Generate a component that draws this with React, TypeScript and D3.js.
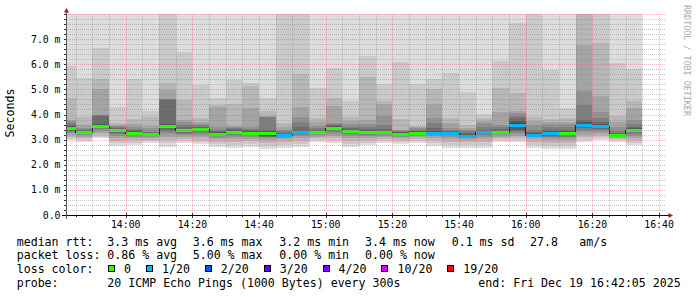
import React from 'react';
import * as d3 from 'd3';

const W = 697;
const H = 297;

const barTimes = [
  '13:40', '13:45', '13:50', '13:55', '14:00', '14:05', '14:10', '14:15', '14:20', '14:25',
  '14:30', '14:35', '14:40', '14:45', '14:50', '14:55', '15:00', '15:05', '15:10', '15:15',
  '15:20', '15:25', '15:30', '15:35', '15:40', '15:45', '15:50', '15:55', '16:00', '16:05',
  '16:10', '16:15', '16:20', '16:25', '16:30',
];

const medians = [
  3.47, 3.29, 3.55, 3.37, 3.28, 3.23, 3.55, 3.37, 3.42, 3.23,
  3.31, 3.28, 3.25, 3.18, 3.29, 3.30, 3.47, 3.34, 3.31, 3.29,
  3.24, 3.28, 3.25, 3.25, 3.16, 3.30, 3.29, 3.59, 3.20, 3.28,
  3.25, 3.59, 3.54, 3.18, 3.38,
];

const losses = [
  0, 0, 0, 0, 0, 0, 0, 0, 0, 0,
  0, 0, 0, 1, 1, 0, 0, 0, 0, 0,
  0, 0, 1, 1, 1, 1, 0, 1, 1, 1,
  0, 1, 1, 0, 0,
];

// 20 sorted ping RTTs per step (ms); null = lost ping, 9 = above the chart top
const pings: (number | null)[][] = [
  [2.98, 3.03, 3.10, 3.18, 3.25, 3.31, 3.36, 3.40, 3.43, 3.46, 3.48, 3.51, 3.55, 3.60, 3.68, 3.74, 3.78, 4.64, 5.93, 9],
  [2.92, 2.98, 3.05, 3.12, 3.18, 3.22, 3.25, 3.27, 3.28, 3.29, 3.30, 3.33, 3.36, 3.40, 3.43, 3.45, 3.60, 3.89, 5.44, 9],
  [3.05, 3.12, 3.20, 3.28, 3.35, 3.41, 3.46, 3.49, 3.51, 3.54, 3.56, 3.58, 3.62, 3.95, 3.98, 4.00, 5.01, 5.40, 6.63, 9],
  [2.75, 2.85, 2.95, 3.05, 3.14, 3.22, 3.28, 3.32, 3.35, 3.37, 3.38, 3.41, 3.44, 3.47, 3.50, 3.55, 3.60, 3.65, 4.31, 9],
  [2.79, 2.88, 2.97, 3.05, 3.12, 3.18, 3.22, 3.25, 3.26, 3.27, 3.29, 3.31, 3.34, 3.38, 3.43, 3.50, 3.61, 3.81, 5.41, 9],
  [2.88, 2.94, 3.00, 3.06, 3.11, 3.15, 3.18, 3.20, 3.21, 3.22, 3.24, 3.26, 3.28, 3.30, 3.32, 3.48, 3.55, 3.89, 4.15, 9],
  [2.72, 2.85, 2.98, 3.10, 3.22, 3.32, 3.40, 3.46, 3.50, 3.54, 3.56, 3.58, 3.62, 4.58, 4.60, 4.62, 4.97, 5.24, 9, 9],
  [2.85, 2.93, 3.02, 3.10, 3.17, 3.23, 3.28, 3.32, 3.35, 3.36, 3.38, 3.40, 3.44, 3.50, 3.58, 3.70, 3.78, 4.58, 6.50, 9],
  [2.81, 2.90, 3.00, 3.10, 3.19, 3.27, 3.33, 3.37, 3.40, 3.41, 3.43, 3.45, 3.48, 3.52, 3.57, 3.63, 3.72, 3.85, 5.17, 9],
  [2.72, 2.82, 2.92, 3.01, 3.08, 3.13, 3.17, 3.19, 3.21, 3.22, 3.24, 3.26, 3.29, 3.33, 3.40, 3.50, 4.30, 4.38, 4.64, 9],
  [2.68, 2.80, 2.92, 3.03, 3.12, 3.19, 3.24, 3.27, 3.29, 3.30, 3.32, 3.34, 3.37, 3.41, 3.45, 3.50, 3.55, 4.42, 5.37, 9],
  [2.72, 2.83, 2.94, 3.04, 3.12, 3.18, 3.22, 3.25, 3.27, 3.28, 3.29, 3.31, 3.34, 3.38, 3.44, 3.50, 4.27, 5.13, 5.27, 9],
  [2.61, 2.75, 2.88, 2.98, 3.05, 3.10, 3.12, 3.14, 3.16, 3.22, 3.27, 3.31, 3.35, 3.40, 3.90, 3.92, 3.94, 4.14, 4.64, 9],
  [2.68, 2.80, 2.92, 3.01, 3.07, 3.11, 3.13, 3.15, 3.16, 3.18, 3.19, 3.21, 3.24, 3.28, 3.33, 3.40, 3.50, 3.65, 9, null],
  [2.72, 2.84, 2.95, 3.05, 3.13, 3.19, 3.23, 3.26, 3.27, 3.29, 3.30, 3.32, 3.36, 3.50, 3.70, 3.91, 4.31, 5.60, 9, null],
  [2.92, 2.98, 3.05, 3.11, 3.17, 3.21, 3.24, 3.26, 3.28, 3.29, 3.31, 3.33, 3.36, 3.40, 3.46, 3.55, 3.70, 3.85, 5.04, 9],
  [2.85, 2.95, 3.05, 3.15, 3.24, 3.32, 3.38, 3.42, 3.45, 3.46, 3.48, 3.50, 3.53, 3.57, 3.61, 3.65, 4.35, 4.67, 5.84, 9],
  [2.72, 2.84, 2.96, 3.06, 3.15, 3.22, 3.27, 3.30, 3.32, 3.33, 3.35, 3.37, 3.40, 3.45, 3.52, 3.62, 3.75, 3.91, 4.55, 9],
  [2.79, 2.88, 2.97, 3.06, 3.13, 3.19, 3.24, 3.27, 3.29, 3.30, 3.32, 3.34, 3.37, 3.42, 3.50, 3.62, 3.78, 5.50, 6.34, 9],
  [2.85, 2.93, 3.01, 3.09, 3.16, 3.21, 3.24, 3.26, 3.27, 3.28, 3.30, 3.32, 3.36, 3.42, 3.60, 3.94, 4.42, 4.54, 5.20, 9],
  [2.81, 2.90, 2.98, 3.06, 3.12, 3.17, 3.20, 3.22, 3.23, 3.24, 3.25, 3.27, 3.29, 3.31, 3.34, 3.37, 3.40, 3.82, 6.10, 9],
  [2.85, 2.93, 3.01, 3.09, 3.16, 3.21, 3.24, 3.26, 3.27, 3.28, 3.29, 3.31, 3.33, 3.36, 3.40, 3.45, 3.50, 3.54, 5.21, 9],
  [2.75, 2.86, 2.97, 3.06, 3.13, 3.18, 3.21, 3.23, 3.24, 3.25, 3.26, 3.29, 3.33, 3.45, 3.65, 3.87, 4.42, 5.01, 5.40, null],
  [2.68, 2.80, 2.92, 3.03, 3.11, 3.17, 3.21, 3.23, 3.24, 3.25, 3.26, 3.28, 3.31, 3.35, 3.40, 3.45, 3.65, 3.85, 5.64, null],
  [2.66, 2.78, 2.90, 3.00, 3.07, 3.11, 3.13, 3.15, 3.16, 3.16, 3.17, 3.19, 3.22, 3.27, 3.35, 3.40, 3.45, 3.60, 4.90, null],
  [2.68, 2.80, 2.92, 3.03, 3.12, 3.19, 3.24, 3.27, 3.29, 3.30, 3.31, 3.33, 3.36, 3.40, 3.50, 3.65, 3.75, 3.85, 4.02, null],
  [2.92, 2.98, 3.05, 3.12, 3.18, 3.22, 3.25, 3.27, 3.28, 3.29, 3.30, 3.32, 3.36, 3.42, 3.50, 3.60, 4.11, 5.04, 6.14, 9],
  [2.92, 3.00, 3.08, 3.16, 3.24, 3.30, 3.34, 3.38, 3.50, 3.58, 3.60, 3.65, 3.75, 3.85, 3.95, 4.05, 4.15, 4.87, 7.65, null],
  [2.68, 2.80, 2.92, 3.02, 3.09, 3.14, 3.17, 3.19, 3.20, 3.20, 3.21, 3.23, 3.26, 3.30, 3.40, 3.60, 3.75, 3.91, 9, null],
  [2.61, 2.75, 2.88, 2.98, 3.05, 3.10, 3.14, 3.18, 3.22, 3.27, 3.29, 3.31, 3.34, 3.40, 3.50, 3.62, 3.72, 3.82, 5.77, null],
  [2.61, 2.75, 2.88, 2.98, 3.06, 3.12, 3.17, 3.20, 3.23, 3.24, 3.26, 3.29, 3.33, 3.40, 3.50, 3.62, 3.72, 3.85, 4.24, 9],
  [2.92, 3.00, 3.10, 3.20, 3.30, 3.38, 3.45, 3.50, 3.55, 3.58, 3.60, 3.63, 3.70, 3.78, 4.38, 4.93, 6.76, 9, 9, null],
  [2.99, 3.06, 3.14, 3.22, 3.30, 3.37, 3.42, 3.46, 3.50, 3.53, 3.55, 3.57, 3.62, 3.70, 3.85, 4.10, 4.73, 6.83, 9, null],
  [2.92, 2.97, 3.02, 3.06, 3.10, 3.12, 3.14, 3.15, 3.16, 3.17, 3.18, 3.20, 3.23, 3.27, 3.35, 3.50, 3.70, 3.94, 6.03, 9],
  [2.79, 2.88, 2.97, 3.06, 3.15, 3.23, 3.29, 3.33, 3.36, 3.37, 3.39, 3.41, 3.45, 3.52, 3.62, 3.78, 4.27, 4.54, 5.80, 9],
];

const lossLegend = ['0', '1/20', '2/20', '3/20', '4/20', '10/20', '19/20'];
const lossColors = ['#26ff00', '#00b8ff', '#0059ff', '#5e00ff', '#7e00ff', '#dd00ff', '#ff0000'];
const lossThresholds = [0, 1, 2, 3, 4, 10, 19];

const yTicks = [0, 1, 2, 3, 4, 5, 6, 7];
const yTickLabels = ['0.0', '1.0 m', '2.0 m', '3.0 m', '4.0 m', '5.0 m', '6.0 m', '7.0 m'];

const statRows = [
  { label: 'median rtt:', items: ['3.3 ms avg', '3.6 ms max', '3.2 ms min', '3.4 ms now', '0.1 ms sd', '27.8', 'am/s'] },
  { label: 'packet loss:', items: ['0.86 % avg', '5.00 % max', '0.00 % min', '0.00 % now'] },
];
const statX = [107.3, 192.7, 279.3, 365, 451.7, 530, 579.3];

const probeText = '20 ICMP Echo Pings (1000 Bytes) every 300s';
const endText = 'end: Fri Dec 19 16:42:05 2025';

const T = (hm: string) => {
  const [h, m] = hm.split(':').map(Number);
  return new Date(Date.UTC(2025, 11, 19, h, m, 0));
};
const tStart = new Date(Date.UTC(2025, 11, 19, 13, 42, 5));
const tEnd = new Date(Date.UTC(2025, 11, 19, 16, 42, 5));

const MONO = 'DejaVu Sans Mono';

export default function App() {
  const x = d3.scaleUtc().domain([tStart, tEnd]).range([66, 666]);
  const y = d3.scaleLinear().domain([0, 8]).range([215, 14]);
  const [x0, x1] = x.range();
  const [yb, yt] = y.range();

  const bars = barTimes.map((t, i) => {
    const s = T(t);
    const e = d3.utcMinute.offset(s, 5);
    return {
      xa: Math.max(x(s), x0),
      xb: x(e),
      p: pings[i],
      m: medians[i],
      loss: losses[i],
    };
  });

  const gray = (i: number) => {
    const c = Math.floor((190 / 10) * (10 - i)) + 50;
    return `rgb(${c},${c},${c})`;
  };
  const clampY = (v: number | null) => {
    const vv = v === null ? Infinity : v;
    return y(Math.max(0, Math.min(8, vv)));
  };

  const minorX = d3.utcMinute.every(5)!.range(tStart, tEnd);
  const majorX = d3.utcMinute.every(20)!.range(tStart, tEnd);
  const minorY = d3.range(1, 41).filter((k) => k % 5 !== 0).map((k) => k / 5);
  const majorY = d3.range(1, 9);

  const medPath = (() => {
    let d = '';
    bars.forEach((b, i) => {
      const yy = Math.round(y(b.m)) + 0.5;
      d += (i === 0 ? 'M' : 'L') + b.xa + ',' + yy + 'L' + b.xb + ',' + yy;
    });
    return d;
  })();

  const lossColor = (l: number) => {
    let idx = 0;
    lossThresholds.forEach((t, i) => {
      if (l >= t) idx = i;
    });
    return lossColors[idx];
  };

  let cursor = 108.5;
  const legendItems = lossLegend.map((lab, i) => {
    const bx = cursor;
    const tx = bx + 15.5;
    cursor = tx + lab.length * 6.97 + 15.5;
    return { lab, bx, tx, color: lossColors[i] };
  });

  const minorStroke = 'rgba(128,128,128,0.42)';
  const majorStroke = 'rgba(224,80,80,0.4)';

  return (
    <svg
      width={W}
      height={H}
      style={{ position: 'absolute', left: 0, top: 0, background: '#fff' }}
      fontFamily={MONO}
    >
      <rect x={0} y={0} width={W} height={H} fill="#fff" />
      <g shapeRendering="crispEdges">
        {bars.map((b, bi) =>
          d3.range(1, 11).map((i) => {
            const lo = b.p[i - 1];
            const hi = b.p[20 - i];
            const ya = clampY(hi);
            const yb2 = clampY(lo);
            return (
              <rect
                key={bi + '-' + i}
                x={b.xa}
                width={b.xb - b.xa}
                y={ya}
                height={Math.max(0, yb2 - ya)}
                fill={gray(i)}
              />
            );
          })
        )}
      </g>
      <path d={medPath} fill="none" stroke="#202020" strokeWidth={1} shapeRendering="crispEdges" />
      <g shapeRendering="crispEdges">
        {bars.map((b, i) => (
          <rect
            key={'m' + i}
            x={b.xa}
            width={b.xb - b.xa}
            y={Math.round(y(b.m)) - 1}
            height={3}
            fill={lossColor(b.loss)}
          />
        ))}
      </g>
      <g fill="none" strokeWidth={1} strokeDasharray="1,1" shapeRendering="crispEdges">
        {minorY.map((v) => (
          <line key={'gy' + v} x1={x0} x2={x1} y1={Math.round(y(v)) + 0.5} y2={Math.round(y(v)) + 0.5} stroke={minorStroke} />
        ))}
        {minorX.filter((t) => t.getUTCMinutes() % 20 !== 0).map((t) => (
          <line key={'gx' + +t} x1={Math.round(x(t)) + 0.5} x2={Math.round(x(t)) + 0.5} y1={yt} y2={yb} stroke={minorStroke} />
        ))}
        {majorY.map((v) => (
          <line key={'my' + v} x1={x0} x2={x1} y1={Math.round(y(v)) + 0.5} y2={Math.round(y(v)) + 0.5} stroke={majorStroke} />
        ))}
        {majorX.map((t) => (
          <line key={'mx' + +t} x1={Math.round(x(t)) + 0.5} x2={Math.round(x(t)) + 0.5} y1={yt} y2={yb} stroke={majorStroke} />
        ))}
      </g>
      <g stroke="#333" strokeWidth={1} shapeRendering="crispEdges">
        {minorY.concat(majorY).map((v) => (
          <line key={'ty' + v} x1={x0 - 2} x2={x0} y1={Math.round(y(v)) + 0.5} y2={Math.round(y(v)) + 0.5} />
        ))}
        {minorX.map((t) => (
          <line key={'tx' + +t} x1={Math.round(x(t)) + 0.5} x2={Math.round(x(t)) + 0.5} y1={yb} y2={yb + 2} />
        ))}
        {majorX.map((t) => (
          <line key={'tmx' + +t} x1={Math.round(x(t)) + 0.5} x2={Math.round(x(t)) + 0.5} y1={yb - 2} y2={yb + 3} />
        ))}
      </g>
      <g shapeRendering="crispEdges">
        <line x1={x0 - 4} x2={x1 + 4} y1={Math.round(yb) + 0.5} y2={Math.round(yb) + 0.5} stroke="#000" />
        <line x1={x0 + 0.5} x2={x0 + 0.5} y1={yb + 4} y2={yt - 3} stroke="#555" />
      </g>
      <path d={`M${x0 - 2},${yt - 1.5}L${x0 + 0.5},${yt - 6}L${x0 + 3},${yt - 1.5}Z`} fill="#a02020" />
      <path d={`M${x1 + 2.5},${yb - 2}L${x1 + 7},${yb + 0.5}L${x1 + 2.5},${yb + 3}Z`} fill="#a02020" />
      <g fontSize={9.8} fill="#000" textAnchor="end">
        {yTicks.map((v, i) => (
          <text key={'yl' + v} x={60.5} y={y(v) + 3.5}>
            {yTickLabels[i]}
          </text>
        ))}
      </g>
      <g fontSize={9.8} fill="#000" textAnchor="middle">
        {majorX.map((t) => (
          <text key={'xl' + +t} x={x(t)} y={227.5}>
            {d3.utcFormat('%H:%M')(t)}
          </text>
        ))}
      </g>
      <text transform="translate(14,113) rotate(-90)" textAnchor="middle" fontSize={11.6} fill="#000">
        Seconds
      </text>
      <text transform="translate(684,5) rotate(90)" fontSize={8.4} fill="#aaa">
        RRDTOOL / TOBI OETIKER
      </text>
      <g fontSize={11.6} fill="#000" style={{ whiteSpace: 'pre' }}>
        {statRows.map((r, ri) => (
          <g key={'sr' + ri}>
            <text x={16.7} y={245.5 + ri * 13.5}>
              {r.label}
            </text>
            {r.items.map((it, k) => (
              <text key={k} x={statX[k]} y={245.5 + ri * 13.5}>
                {it}
              </text>
            ))}
          </g>
        ))}
        <text x={16.7} y={273}>
          loss color:
        </text>
        {legendItems.map((li) => (
          <g key={li.lab}>
            <rect x={li.bx} y={265.5} width={6} height={6} fill={li.color} stroke="#000" strokeWidth={1} shapeRendering="crispEdges" />
            <text x={li.tx} y={273}>
              {li.lab}
            </text>
          </g>
        ))}
        <text x={16.7} y={286.5}>
          probe:
        </text>
        <text x={107.3} y={286.5}>
          {probeText}
        </text>
        <text x={478.3} y={286.5}>
          {endText}
        </text>
      </g>
    </svg>
  );
}
